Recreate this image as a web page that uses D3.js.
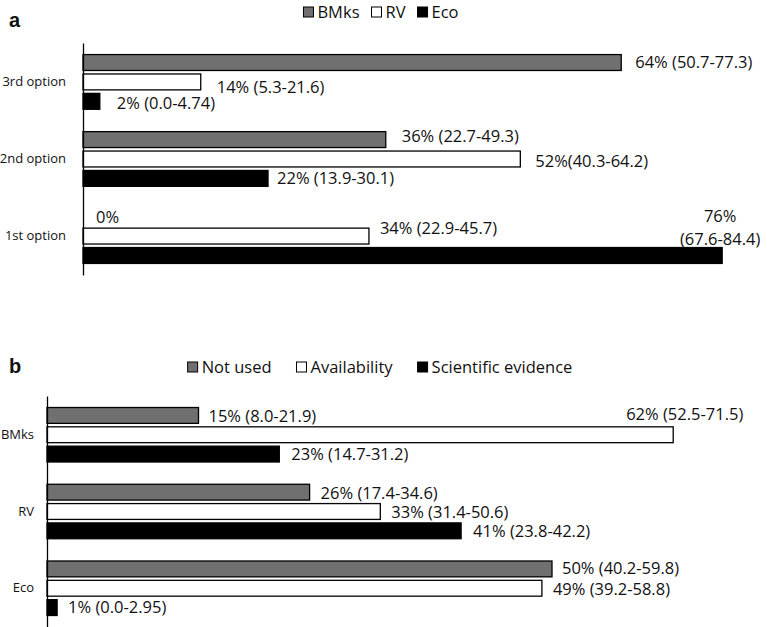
<!DOCTYPE html>
<html><head><meta charset="utf-8">
<script src="https://cdn.jsdelivr.net/npm/d3@7"></script>
<style>body{margin:0;background:#fff}svg{display:block}text{font-family:"Open Sans",sans-serif;fill:#111}</style>
</head><body><svg id="c" width="767" height="627"></svg>
<script>
// ---- Panel a data ----
const catsA = ["3rd option", "2nd option", "1st option"];
const seriesA = ["BMks", "RV", "Eco"];
const bmksA = [64, 36, 0];
const rvA = [14, 52, 34];
const ecoA = [2, 22, 76];
const bmksLabA = ["64% (50.7-77.3)", "36% (22.7-49.3)", "0%"];
const rvLabA = ["14% (5.3-21.6)", "52%(40.3-64.2)", "34% (22.9-45.7)"];
const ecoLabA = ["2% (0.0-4.74)", "22% (13.9-30.1)", "76%\n(67.6-84.4)"];

// ---- Panel b data ----
const catsB = ["BMks", "RV", "Eco"];
const seriesB = ["Not used", "Availability", "Scientific evidence"];
const notUsedB = [15, 26, 50];
const availB = [62, 33, 49];
const sciB = [23, 41, 1];
const notUsedLabB = ["15% (8.0-21.9)", "26% (17.4-34.6)", "50% (40.2-59.8)"];
const availLabB = ["62% (52.5-71.5)", "33% (31.4-50.6)", "49% (39.2-58.8)"];
const sciLabB = ["23% (14.7-31.2)", "41% (23.8-42.2)", "1% (0.0-2.95)"];

const fills = ["#707070", "#ffffff", "#000000"];

// label nudges (layout only): key "series|category" -> [mode, dx, dy]
const nudgeA = {
  "BMks|3rd option": [0, 14, 0], "RV|3rd option": [0, 16, 5], "Eco|3rd option": [0, 17, 2],
  "BMks|2nd option": [0, 16, -3], "RV|2nd option": [0, 15, 2], "Eco|2nd option": [0, 9, 0],
  "BMks|1st option": [0, 13, 1], "RV|1st option": [0, 11, -8], "Eco|1st option": [1, -2, 0]
};
const nudgeB = {
  "Not used|BMks": [0, 10, 1], "Availability|BMks": [2, -47, -21], "Scientific evidence|BMks": [0, 12, 0],
  "Not used|RV": [0, 11, 1], "Availability|RV": [0, 11, 1], "Scientific evidence|RV": [0, 12, 0],
  "Not used|Eco": [0, 10, -1], "Availability|Eco": [0, 11, 1], "Scientific evidence|Eco": [0, 11, 0]
};

const svg = d3.select("#c");

function panel(cfg) {
  const g = svg.append("g");
  const rows = cfg.cats.map((c, i) => ({
    cat: c,
    vals: cfg.series.map((s, j) => ({ s, j, cat: c, v: cfg.values[j][i], lab: cfg.labels[j][i] }))
  }));
  const y0 = d3.scaleBand().domain(cfg.cats).range(cfg.yRange).paddingInner(0.29).paddingOuter(0.15);
  const y1 = d3.scaleBand().domain(cfg.series).range([0, y0.bandwidth()]).paddingInner(0.18);
  const x = cfg.x;

  const grp = g.selectAll("g.grp").data(rows).join("g")
    .attr("transform", d => `translate(0,${y0(d.cat)})`);
  grp.selectAll("rect").data(d => d.vals.filter(v => v.v > 0)).join("rect")
    .attr("x", x(0)).attr("y", d => y1(d.s))
    .attr("width", d => x(d.v) - x(0)).attr("height", y1.bandwidth())
    .attr("fill", d => fills[d.j]).attr("stroke", "#000").attr("stroke-width", 1.3);

  grp.selectAll("text.lab").data(d => d.vals).join("text")
    .attr("class", "lab").style("font-size", "16.5px")
    .each(function (d) {
      const t = d3.select(this);
      const n = cfg.nudge[d.s + "|" + d.cat] || [0, 12, 0];
      const xe = x(d.v), yc = y1(d.s) + y1.bandwidth() / 2;
      if (n[0] === 1) {
        const lines = d.lab.split("\n");
        t.attr("text-anchor", "middle");
        lines.forEach((ln, k) => t.append("tspan").attr("x", xe + n[1])
          .attr("y", y1(d.s) - 31 + k * 23).attr("dy", "0.35em").text(ln));
      } else {
        t.attr("x", xe + n[1]).attr("y", yc + n[2]).attr("dy", "0.35em").text(d.lab);
      }
    });

  const ax = g.append("g").attr("transform", `translate(${x(0)},0)`)
    .call(d3.axisLeft(y0).tickSize(0).tickSizeOuter(0).tickPadding(cfg.tickPad));
  ax.select(".domain").attr("stroke", "#000").attr("stroke-width", 1.3);
  ax.selectAll("text").style("font-size", "13px").style("font-family", "\"Open Sans\",sans-serif").attr("fill", "#111");

  svg.append("text").attr("x", cfg.letterX).attr("y", cfg.letterY).attr("dy", "0.35em")
    .style("font-family", "\"Liberation Sans\",Arial,sans-serif").style("font-weight", "bold")
    .style("font-size", "20px").attr("fill", "#000").text(cfg.letter);

  const lg = svg.append("g");
  let cx = 0;
  cfg.series.forEach((s, j) => {
    lg.append("rect").attr("x", cx).attr("y", -5).attr("width", 10).attr("height", 10)
      .attr("fill", fills[j]).attr("stroke", "#000").attr("stroke-width", 1);
    const t = lg.append("text").attr("x", cx + 14).attr("y", 0).attr("dy", "0.35em")
      .style("font-size", "16.5px").text(s);
    cx += 14 + t.node().getComputedTextLength() + cfg.legGap;
  });
  const w = cx - cfg.legGap;
  lg.attr("transform", `translate(${cfg.legCenter - w / 2},${cfg.legY})`);
}

panel({
  cats: catsA, series: seriesA, values: [bmksA, rvA, ecoA], labels: [bmksLabA, rvLabA, ecoLabA],
  x: d3.scaleLinear().domain([0, 80]).range([83, 83 + 80 * 8.41]),
  yRange: [43, 275], nudge: nudgeA, tickPad: 17,
  letter: "a", letterX: 9, letterY: 20, legCenter: 381, legY: 12, legGap: 12
});
panel({
  cats: catsB, series: seriesB, values: [notUsedB, availB, sciB], labels: [notUsedLabB, availLabB, sciLabB],
  x: d3.scaleLinear().domain([0, 70]).range([47, 47 + 70 * 10.1]),
  yRange: [396, 627], nudge: nudgeB, tickPad: 13,
  letter: "b", letterX: 9, letterY: 366, legCenter: 380, legY: 367, legGap: 25
});
</script></body></html>
